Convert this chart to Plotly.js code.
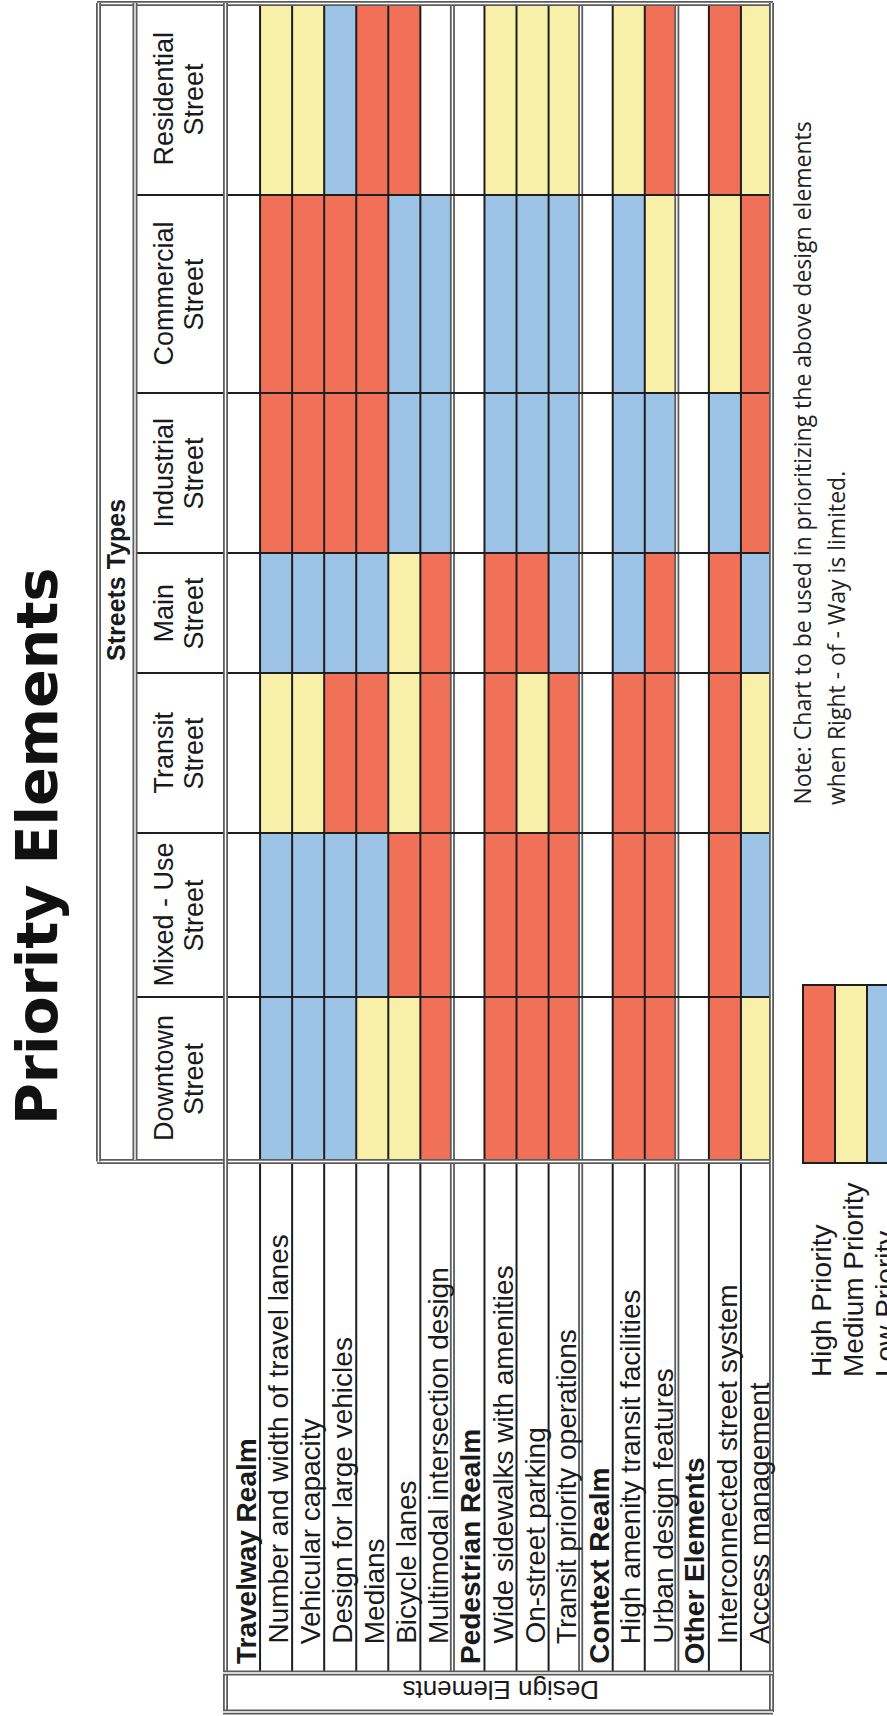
<!DOCTYPE html>
<html>
<head>
<meta charset="utf-8">
<script src="https://cdn.plot.ly/plotly-3.0.1.min.js"></script>
<style>
  html, body { margin: 0; padding: 0; background: #ffffff; }
  #chart { width: 887px; height: 1716px; }
</style>
</head>
<body>
<div id="chart"></div>
<script>
// ---------------- DATA ----------------
const chartTitle = 'Priority Elements';
const headerTitle = 'Streets Types';
const sideTitle = 'Design Elements';

// street types (bottom -> top in the picture)
const streetTypes = ['Downtown<br>Street', 'Mixed - Use<br>Street', 'Transit<br>Street', 'Main<br>Street',
                     'Industrial<br>Street', 'Commercial<br>Street', 'Residential<br>Street'];

// design elements (left -> right in the picture)
const designElements = [
  'Travelway Realm',
  'Number and width of travel lanes',
  'Vehicular capacity',
  'Design for large vehicles',
  'Medians',
  'Bicycle lanes',
  'Multimodal intersection design',
  'Pedestrian Realm',
  'Wide sidewalks with amenities',
  'On-street parking',
  'Transit priority operations',
  'Context Realm',
  'High amenity transit facilities',
  'Urban design features',
  'Other Elements',
  'Interconnected street system',
  'Access management'
];
const sectionHeaders = ['Travelway Realm', 'Pedestrian Realm', 'Context Realm', 'Other Elements'];

// priority: 3 = High, 2 = Medium, 1 = Low, null = none / section row
const downtown    = [null, 1, 1, 1, 2, 2, 3, null, 3, 3, 3, null, 3, 3, null, 3, 2];
const mixedUse    = [null, 1, 1, 1, 1, 3, 3, null, 3, 3, 3, null, 3, 3, null, 3, 1];
const transit     = [null, 2, 2, 3, 3, 2, 3, null, 3, 2, 3, null, 3, 3, null, 3, 2];
const mainStreet  = [null, 1, 1, 1, 1, 2, 3, null, 3, 3, 1, null, 1, 3, null, 3, 1];
const industrial  = [null, 3, 3, 3, 3, 1, 1, null, 1, 1, 1, null, 1, 1, null, 1, 3];
const commercial  = [null, 3, 3, 3, 3, 1, 1, null, 1, 1, 1, null, 1, 2, null, 2, 3];
const residential = [null, 2, 2, 1, 3, 3, null, null, 2, 2, 2, null, 2, 3, null, 3, 2];

const legendLabels = ['High Priority', 'Medium Priority', 'Low Priority'];
const legendValues = [3, 2, 1];

const noteLines = ['Note: Chart to be used in prioritizing the above design elements',
                   'when Right - of - Way is limited.'];

// ---------------- LAYOUT CONSTANTS (pixels) ----------------
const W = 887, H = 1716;
const GRID_L = 228, GRID_R = 773, TOP = 3, HEAD_B = 1160, LABEL_B = 1673, BOT = 1712;
const colWidthsPx = [163, 164, 160, 120, 160, 198, 192]; // Downtown -> Residential
const LEG_L = 803, LEG_CELL = 32, LEG_TOP = 985, LEG_B = 1163;

const RED = '#F07157', YEL = '#F8EFA8', BLU = '#9DC3E6';
const LINE = '#1e1e1e', DBL = '#5c5c5c';
const SANS = 'Liberation Sans, Arial, sans-serif';

const px = v => v / W;
const py = v => 1 - v / H;

const yEdges = [0];
colWidthsPx.forEach(w => yEdges.push(yEdges[yEdges.length - 1] + w));
const yTotal = yEdges[yEdges.length - 1];

const colorscale = [[0, BLU], [1/3, BLU], [1/3, YEL], [2/3, YEL], [2/3, RED], [1, RED]];

const traces = [
  {
    type: 'heatmap',
    x: designElements.map((_, i) => i),
    y: yEdges,
    z: [downtown, mixedUse, transit, mainStreet, industrial, commercial, residential],
    colorscale: colorscale, zmin: 0.5, zmax: 3.5,
    showscale: false, hoverinfo: 'skip', xaxis: 'x', yaxis: 'y'
  },
  {
    type: 'heatmap',
    x: legendValues.map((_, i) => i),
    y: [0, 1],
    z: [legendValues],
    colorscale: colorscale, zmin: 0.5, zmax: 3.5,
    showscale: false, hoverinfo: 'skip', xaxis: 'x2', yaxis: 'y2'
  }
];

// ---------------- SHAPES ----------------
const shapes = [];
function seg(x0, y0, x1, y1, xref, yref, width, color) {
  shapes.push({ type: 'line', x0, y0, x1, y1, xref, yref, layer: 'above',
                line: { color: color, width: width } });
}
function dbl(x0, y0, x1, y1, xref, yref) {
  seg(x0, y0, x1, y1, xref, yref, 5, DBL);
  seg(x0, y0, x1, y1, xref, yref, 1.4, '#ffffff');
}

// vertical row boundaries through grid and label area
const doubleBounds = [6.5, 10.5, 13.5];
for (let k = 0; k < designElements.length - 1; k++) {
  const b = k + 0.5;
  if (doubleBounds.includes(b)) dbl(b, py(TOP), b, py(LABEL_B), 'x', 'paper');
  else seg(b, py(TOP), b, py(LABEL_B), 'x', 'paper', 2, LINE);
}
// column boundaries
for (let j = 1; j < yEdges.length - 1; j++) {
  seg(px(137), yEdges[j], px(GRID_R - 2), yEdges[j], 'paper', 'y', 2, LINE);
}
// frames
dbl(px(97), py(3.5), px(GRID_R), py(3.5), 'paper', 'paper');
dbl(px(97), py(HEAD_B + 1.5), px(GRID_R), py(HEAD_B + 1.5), 'paper', 'paper');
dbl(px(98.5), py(TOP), px(98.5), py(HEAD_B + 1.5), 'paper', 'paper');
dbl(px(135), py(TOP), px(135), py(HEAD_B), 'paper', 'paper');
dbl(px(225.5), py(TOP), px(225.5), py(BOT), 'paper', 'paper');
dbl(px(771.5), py(TOP), px(771.5), py(BOT), 'paper', 'paper');
dbl(px(223), py(LABEL_B), px(GRID_R), py(LABEL_B), 'paper', 'paper');
dbl(px(223), py(BOT), px(GRID_R), py(BOT), 'paper', 'paper');

// legend swatch borders
shapes.push({ type: 'rect', xref: 'paper', yref: 'paper', layer: 'above',
  x0: px(LEG_L), x1: px(LEG_L + 3 * LEG_CELL), y0: py(LEG_B), y1: py(LEG_TOP),
  line: { color: LINE, width: 2 } });
for (let k = 1; k < 3; k++) {
  seg(px(LEG_L + k * LEG_CELL), py(LEG_TOP), px(LEG_L + k * LEG_CELL), py(LEG_B), 'paper', 'paper', 2, LINE);
}

// ---------------- ANNOTATIONS ----------------
const ann = [];
function txt(o) {
  ann.push(Object.assign({ showarrow: false, xanchor: 'center', yanchor: 'middle',
                           textangle: -90, font: { family: SANS, size: 28, color: '#1a1a1a' } }, o));
}

txt({ text: '<b>' + chartTitle + '</b>', xref: 'paper', yref: 'paper', x: px(37), y: py(847),
      font: { family: 'DejaVu Sans, sans-serif', size: 57, color: '#111111' } });
txt({ text: '<b>' + headerTitle + '</b>', xref: 'paper', yref: 'paper', x: px(116), y: py(580),
      font: { family: SANS, size: 25, color: '#1a1a1a' } });

streetTypes.forEach((s, j) => {
  const parts = s.split('<br>');
  const yc = (yEdges[j] + yEdges[j + 1]) / 2;
  txt({ text: parts[0], xref: 'paper', yref: 'y', x: px(163.5), y: yc, font: { family: SANS, size: 27, color: '#1a1a1a' } });
  txt({ text: parts[1], xref: 'paper', yref: 'y', x: px(193.5), y: yc, font: { family: SANS, size: 27, color: '#1a1a1a' } });
});

designElements.forEach((d, i) => {
  const isHead = sectionHeaders.includes(d);
  txt({ text: isHead ? '<b>' + d + '</b>' : d, xref: 'x', yref: 'paper', x: i,
        y: py(isHead ? 1666 : 1646), yanchor: 'bottom', xshift: 2,
        font: { family: SANS, size: 28, color: '#1a1a1a' } });
});

txt({ text: sideTitle, xref: 'paper', yref: 'paper', x: px(500), y: py(1690), textangle: 180,
      font: { family: SANS, size: 26, color: '#1a1a1a' } });

legendLabels.forEach((l, k) => {
  txt({ text: l, xref: 'paper', yref: 'paper', x: px(LEG_L + 18 + k * LEG_CELL), y: py(1379),
        yanchor: 'bottom', font: { family: SANS, size: 28, color: '#1a1a1a' } });
});

noteLines.forEach((l, k) => {
  txt({ text: l, xref: 'paper', yref: 'paper', x: px(802 + k * 34), y: py(807),
        yanchor: 'bottom', font: { family: 'Open Sans, sans-serif', size: 23, color: '#222222' } });
});

// ---------------- LAYOUT ----------------
const layout = {
  width: W, height: H,
  margin: { l: 0, r: 0, t: 0, b: 0, pad: 0 },
  paper_bgcolor: '#ffffff', plot_bgcolor: 'rgba(0,0,0,0)',
  showlegend: false,
  xaxis: { domain: [px(GRID_L), px(GRID_R)], range: [-0.5, designElements.length - 0.5],
           visible: false, fixedrange: true },
  yaxis: { domain: [py(HEAD_B), py(TOP)], range: [0, yTotal], visible: false, fixedrange: true },
  xaxis2: { domain: [px(LEG_L), 1], range: [-0.5, -0.5 + (W - LEG_L) / LEG_CELL],
            visible: false, fixedrange: true, anchor: 'y2' },
  yaxis2: { domain: [py(LEG_B), py(LEG_TOP)], range: [0, 1], visible: false, fixedrange: true, anchor: 'x2' },
  shapes: shapes,
  annotations: ann
};

Plotly.newPlot('chart', traces, layout, { staticPlot: true, displayModeBar: false });
</script>
</body>
</html>
